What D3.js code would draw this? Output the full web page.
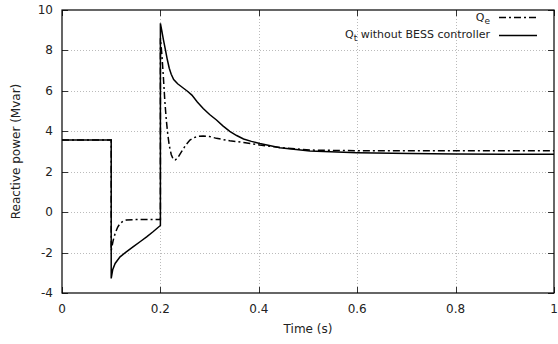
<!DOCTYPE html>
<html>
<head>
<meta charset="utf-8">
<script src="https://cdn.jsdelivr.net/npm/d3@7"></script>
<style>
body { margin: 0; background: #fff; }
text { font-family: "DejaVu Sans", sans-serif; font-size: 12px; fill: #222; }
text.legend { font-size: 11px; }
</style>
</head>
<body>
<svg id="chart" width="558" height="344"></svg>
<script>
var xTicks = [0, 0.2, 0.4, 0.6, 0.8, 1];
var yTicks = [-4, -2, 0, 2, 4, 6, 8, 10];

// Q_t without BESS controller (solid)
var qtTime = [0, 0.1, 0.1, 0.103, 0.108, 0.118, 0.13, 0.145, 0.16, 0.172, 0.185, 0.2,
    0.2, 0.203, 0.206, 0.21, 0.214, 0.218, 0.222, 0.227, 0.235, 0.247, 0.255, 0.264,
    0.275, 0.287, 0.3, 0.314, 0.327, 0.341, 0.355, 0.369, 0.385, 0.402, 0.443, 0.504,
    0.6, 0.707, 0.8, 0.9, 1.0];
var qtVal = [3.57, 3.57, -3.28, -2.85, -2.54, -2.21, -1.98, -1.71, -1.44, -1.22, -0.97, -0.66,
    9.34, 8.95, 8.55, 8.05, 7.55, 7.12, 6.82, 6.56, 6.35, 6.13, 5.98, 5.79,
    5.45, 5.13, 4.83, 4.56, 4.27, 4.0, 3.79, 3.62, 3.50, 3.40, 3.19, 3.02,
    2.94, 2.90, 2.88, 2.87, 2.86];

// Q_e (dash-dot)
var qeTime = [0, 0.1, 0.1, 0.104, 0.108, 0.113, 0.118, 0.124, 0.131, 0.15, 0.2,
    0.2, 0.203, 0.206, 0.209, 0.212, 0.215, 0.218, 0.222, 0.226, 0.23, 0.235, 0.243, 0.251,
    0.26, 0.268, 0.277, 0.287, 0.3, 0.314, 0.341, 0.369, 0.402, 0.45, 0.504, 0.6, 0.8, 1.0];
var qeVal = [3.57, 3.57, -1.9, -1.4, -1.05, -0.75, -0.56, -0.45, -0.39, -0.37, -0.37,
    8.6, 7.8, 6.7, 5.5, 4.56, 3.85, 3.3, 2.85, 2.62, 2.58, 2.68, 2.99, 3.3,
    3.57, 3.68, 3.75, 3.77, 3.74, 3.65, 3.53, 3.45, 3.32, 3.18, 3.07, 3.04, 3.04, 3.04];

var svg = d3.select("#chart");
var plotL = 62, plotR = 554, plotT = 10, plotB = 293;

var x = d3.scaleLinear().domain([0, 1]).range([plotL, plotR]);
var y = d3.scaleLinear().domain([-4, 10]).range([plotB, plotT]);

// grid
var grid = svg.append("g").attr("stroke", "#bbb").attr("stroke-width", 1).attr("stroke-dasharray", "1,2");
grid.selectAll(".gx").data(xTicks.slice(1, -1)).enter().append("line")
    .attr("x1", d => Math.round(x(d)) + 0.5).attr("x2", d => Math.round(x(d)) + 0.5)
    .attr("y1", plotT).attr("y2", plotB);
grid.selectAll(".gy").data(yTicks.slice(1, -1)).enter().append("line")
    .attr("y1", d => Math.round(y(d)) + 0.5).attr("y2", d => Math.round(y(d)) + 0.5)
    .attr("x1", plotL).attr("x2", plotR);

// ticks (inward, mirrored)
var ticks = svg.append("g").attr("stroke", "#333").attr("stroke-width", 1);
xTicks.forEach(d => {
    let px = Math.round(x(d)) + 0.5;
    ticks.append("line").attr("x1", px).attr("x2", px).attr("y1", plotB).attr("y2", plotB - 6);
    ticks.append("line").attr("x1", px).attr("x2", px).attr("y1", plotT).attr("y2", plotT + 6);
});
yTicks.forEach(d => {
    let py = Math.round(y(d)) + 0.5;
    ticks.append("line").attr("x1", plotL).attr("x2", plotL + 6).attr("y1", py).attr("y2", py);
    ticks.append("line").attr("x1", plotR).attr("x2", plotR - 6).attr("y1", py).attr("y2", py);
});

// border
svg.append("rect").attr("x", plotL).attr("y", plotT)
    .attr("width", plotR - plotL).attr("height", plotB - plotT)
    .attr("fill", "none").attr("stroke", "#000").attr("stroke-width", 1.2);

// tick labels
svg.selectAll(".xl").data(xTicks).enter().append("text")
    .attr("x", d => x(d)).attr("y", plotB + 20)
    .attr("text-anchor", "middle").text(d => d);
svg.selectAll(".yl").data(yTicks).enter().append("text")
    .attr("x", plotL - 9).attr("y", d => y(d) + 4)
    .attr("text-anchor", "end").text(d => d);

// axis labels
svg.append("text").attr("x", (plotL + plotR) / 2).attr("y", 333)
    .attr("text-anchor", "middle").text("Time (s)");
svg.append("text").attr("transform", "translate(20," + ((plotT + plotB) / 2) + ") rotate(-90)")
    .attr("text-anchor", "middle").text("Reactive power (Mvar)");

// curves
var line = d3.line().x(d => x(d[0])).y(d => y(d[1]));
var qt = qtTime.map((t, i) => [t, qtVal[i]]);
var qe = qeTime.map((t, i) => [t, qeVal[i]]);

svg.append("path").datum(qe).attr("d", line)
    .attr("fill", "none").attr("stroke", "#000").attr("stroke-width", 1.5)
    .attr("stroke-dasharray", "7,3,2,3");
svg.append("path").datum(qt).attr("d", line)
    .attr("fill", "none").attr("stroke", "#000").attr("stroke-width", 1.5);

// legend
var lg = svg.append("g");
var t1 = lg.append("text").attr("class", "legend").attr("x", 490).attr("y", 21).attr("text-anchor", "end");
t1.append("tspan").text("Q");
t1.append("tspan").attr("dy", 3).attr("font-size", "9px").text("e");
lg.append("line").attr("x1", 499).attr("x2", 537).attr("y1", 17.5).attr("y2", 17.5)
    .attr("stroke", "#000").attr("stroke-width", 1.5).attr("stroke-dasharray", "7,3,2,3");

var t2 = lg.append("text").attr("class", "legend").attr("x", 490).attr("y", 38).attr("text-anchor", "end");
t2.append("tspan").text("Q");
t2.append("tspan").attr("dy", 3).attr("font-size", "9px").text("t");
t2.append("tspan").attr("dy", -3).text(" without BESS controller");
lg.append("line").attr("x1", 499).attr("x2", 537).attr("y1", 35.5).attr("y2", 35.5)
    .attr("stroke", "#000").attr("stroke-width", 1.5);
</script>
</body>
</html>
